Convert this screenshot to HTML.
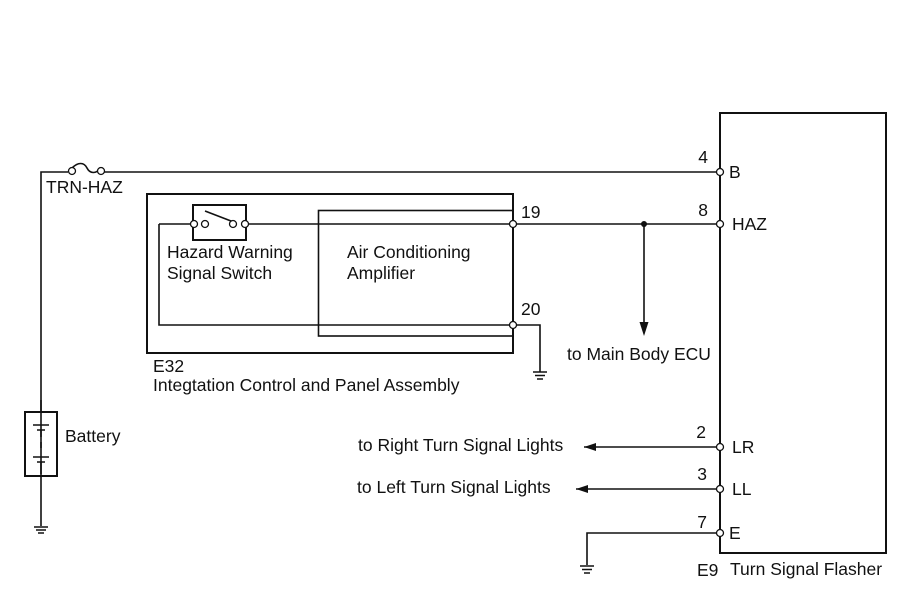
<!DOCTYPE html>
<html><head><meta charset="utf-8"><style>
html,body{margin:0;padding:0;background:#fff;}
svg{display:block;}
text{font-family:"Liberation Sans",Arial,sans-serif;font-size:17.5px;fill:#111;}
</style></head><body>
<svg width="907" height="610" viewBox="0 0 907 610" xmlns="http://www.w3.org/2000/svg">
<g fill="none" stroke="#111" stroke-width="1.6">
<rect x="720" y="113" width="166" height="440" stroke-width="2"/>
<path d="M41 474 L41 172 L68 172"/>
<path d="M72 168 C78 162 84 162 87 168 C90 174 96 174 101 168" />
<path d="M104 172 L720 172"/>
<rect x="25" y="412" width="32" height="64" stroke-width="2"/>
<path d="M41 400 L41 412 M41 476 L41 526"/>
<path d="M33 425 L49 425 M37 430 L45 430 M41 430 L41 437 M41 442 L41 448 M33 457 L49 457 M37 462 L45 462 M41 462 L41 476"/>
<path d="M34 527 L48 527 M36 530 L46 530 M38 533 L44 533"/>
<rect x="147" y="194" width="366" height="159" stroke-width="2"/>
<rect x="318.5" y="210.5" width="194.5" height="125.5"/>
<path d="M159 224 L193 224 M246 224 L716 224"/>
<path d="M159 224 L159 325 L513 325 L540 325 L540 372"/>
<path d="M533 372 L547 372 M535 375.5 L545 375.5 M537 379 L543 379"/>
<rect x="193" y="205" width="53" height="35" stroke-width="2"/>
<path d="M644 224 L644 325"/>
<path d="M584 447 L716 447 M576 489 L716 489"/>
<path d="M716 533 L587 533 L587 565"/>
<path d="M580 566 L594 566 M582 569.5 L592 569.5 M584 573 L590 573"/>
</g>
<g fill="#111" stroke="none">
<circle cx="644" cy="224" r="3"/>
<polygon points="639.5,322 648.5,322 644,336"/>
<polygon points="584,447 596,443 596,451"/>
<polygon points="576,489 588,485 588,493"/>
</g>
<g fill="#fff" stroke="#111" stroke-width="1.3">
<circle cx="72" cy="171" r="3.5"/><circle cx="101" cy="171" r="3.5"/>
<circle cx="194" cy="224" r="3.5"/><circle cx="205" cy="224" r="3.5"/>
<circle cx="233" cy="224" r="3.5"/><circle cx="245" cy="224" r="3.5"/>
<circle cx="513" cy="224" r="3.5"/><circle cx="513" cy="325" r="3.5"/>
<circle cx="720" cy="172" r="3.5"/><circle cx="720" cy="224" r="3.5"/>
<circle cx="720" cy="447" r="3.5"/><circle cx="720" cy="489" r="3.5"/>
<circle cx="720" cy="533" r="3.5"/>
</g>
<path d="M205 211 L231 221" stroke="#111" stroke-width="1.6" fill="none"/>
<text x="46" y="193">TRN-HAZ</text>
<text x="167" y="258">Hazard Warning</text>
<text x="167" y="279">Signal Switch</text>
<text x="347" y="258">Air Conditioning</text>
<text x="347" y="279">Amplifier</text>
<text x="521" y="218">19</text>
<text x="521" y="315">20</text>
<text x="153" y="372">E32</text>
<text x="153" y="391">Integtation Control and Panel Assembly</text>
<text x="567" y="360">to Main Body ECU</text>
<text x="65" y="442">Battery</text>
<text x="358" y="451">to Right Turn Signal Lights</text>
<text x="357" y="493">to Left Turn Signal Lights</text>
<text x="708" y="163" text-anchor="end">4</text>
<text x="729" y="178">B</text>
<text x="708" y="216" text-anchor="end">8</text>
<text x="732" y="230">HAZ</text>
<text x="706" y="438" text-anchor="end">2</text>
<text x="732" y="453">LR</text>
<text x="707" y="480" text-anchor="end">3</text>
<text x="732" y="495">LL</text>
<text x="707" y="528" text-anchor="end">7</text>
<text x="729" y="539">E</text>
<text x="697" y="576">E9</text>
<text x="730" y="575">Turn Signal Flasher</text>
</svg>
</body></html>
